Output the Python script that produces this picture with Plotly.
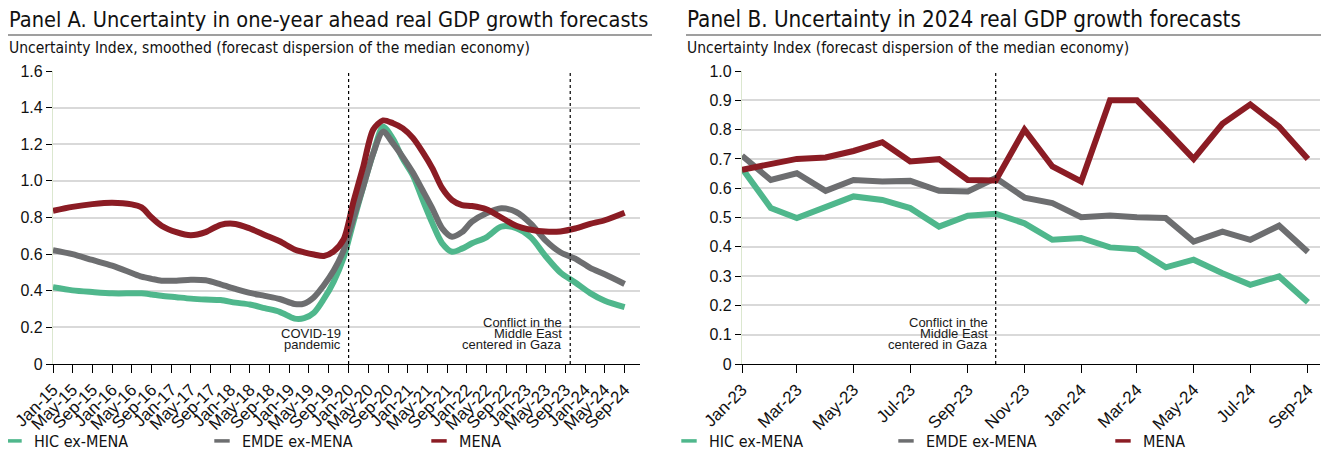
import pandas as pd
import plotly.graph_objects as go

# ---------------- Data ----------------
series_names = ["HIC ex-MENA", "EMDE ex-MENA", "MENA"]
series_colors = ["#4fb78c", "#6d6e70", "#8b1c24"]

a_months = ["2015-01", "2015-05", "2015-09", "2016-01", "2016-05", "2016-07", "2016-09", "2016-11",
            "2017-02", "2017-05", "2017-08", "2017-11", "2018-02", "2018-05", "2018-08", "2018-11",
            "2019-02", "2019-04", "2019-06", "2019-08", "2019-10", "2019-12", "2020-02", "2020-04",
            "2020-06", "2020-08", "2020-10", "2020-12", "2021-02", "2021-04", "2021-06", "2021-08",
            "2021-10", "2021-12", "2022-02", "2022-05", "2022-08", "2022-11", "2023-02", "2023-05",
            "2023-08", "2023-11", "2024-02", "2024-05", "2024-09"]
a_hic = [0.419, 0.402, 0.393, 0.386, 0.386, 0.386, 0.380, 0.373, 0.365, 0.357, 0.352, 0.349,
         0.335, 0.325, 0.305, 0.285, 0.248, 0.250, 0.280, 0.355, 0.450, 0.580, 0.780, 0.970,
         1.150, 1.296, 1.230, 1.120, 1.030, 0.900, 0.770, 0.659, 0.613, 0.630, 0.659, 0.692,
         0.750, 0.742, 0.690, 0.590, 0.500, 0.445, 0.387, 0.345, 0.310]
a_emde = [0.622, 0.600, 0.568, 0.537, 0.497, 0.477, 0.465, 0.455, 0.455, 0.460, 0.457, 0.435,
          0.410, 0.388, 0.372, 0.355, 0.328, 0.330, 0.365, 0.430, 0.510, 0.620, 0.800, 0.970,
          1.150, 1.269, 1.205, 1.130, 1.045, 0.950, 0.850, 0.741, 0.695, 0.720, 0.777, 0.823,
          0.850, 0.830, 0.765, 0.675, 0.610, 0.575, 0.525, 0.490, 0.437]
a_mena = [0.837, 0.858, 0.873, 0.881, 0.872, 0.855, 0.800, 0.755, 0.720, 0.703, 0.720, 0.760,
          0.765, 0.740, 0.705, 0.670, 0.625, 0.610, 0.598, 0.590, 0.615, 0.680, 0.890, 1.080,
          1.280, 1.330, 1.315, 1.287, 1.235, 1.160, 1.070, 0.960, 0.895, 0.868, 0.863, 0.845,
          0.800, 0.755, 0.733, 0.723, 0.724, 0.740, 0.765, 0.785, 0.826]

# Panel B: monthly index Jan-23 .. Sep-24
b_months = ["2023-01", "2023-02", "2023-03", "2023-04", "2023-05", "2023-06", "2023-07",
            "2023-08", "2023-09", "2023-10", "2023-11", "2023-12", "2024-01", "2024-02",
            "2024-03", "2024-04", "2024-05", "2024-06", "2024-07", "2024-08", "2024-09"]
b_hic = [0.668, 0.532, 0.498, 0.537, 0.572, 0.560, 0.532, 0.469, 0.506, 0.513, 0.480,
         0.424, 0.430, 0.398, 0.392, 0.330, 0.356, 0.310, 0.270, 0.299, 0.211]
b_emde = [0.711, 0.628, 0.651, 0.591, 0.628, 0.623, 0.625, 0.591, 0.589, 0.635, 0.568,
          0.549, 0.501, 0.507, 0.501, 0.498, 0.418, 0.452, 0.424, 0.472, 0.382]
b_mena = [0.663, 0.682, 0.700, 0.705, 0.727, 0.757, 0.691, 0.699, 0.628, 0.626, 0.800,
          0.674, 0.623, 0.900, 0.900, 0.800, 0.700, 0.820, 0.886, 0.810, 0.700]

a_yticks = [0, 0.2, 0.4, 0.6, 0.8, 1.0, 1.2, 1.4, 1.6]
a_yticktext = ["0", "0.2", "0.4", "0.6", "0.8", "1.0", "1.2", "1.4", "1.6"]
b_yticks = [0, 0.1, 0.2, 0.3, 0.4, 0.5, 0.6, 0.7, 0.8, 0.9, 1.0]
b_yticktext = ["0", "0.1", "0.2", "0.3", "0.4", "0.5", "0.6", "0.7", "0.8", "0.9", "1.0"]

events_a = [("2020-01", ["COVID-19", "pandemic"]),
            ("2023-10", ["Conflict in the", "Middle East", "centered in Gaza"])]
events_b = [("2023-10", ["Conflict in the", "Middle East", "centered in Gaza"])]

title_a = "Panel A. Uncertainty in one-year ahead real GDP growth forecasts"
title_b = "Panel B. Uncertainty in 2024 real GDP growth forecasts"
sub_a = "Uncertainty Index, smoothed (forecast dispersion of the median economy)"
sub_b = "Uncertainty Index (forecast dispersion of the median economy)"

# ---------------- Figure ----------------
W, H = 1329, 456
OFF = 8  # page body margin: the figure sits 8px right/down in the window


def px(xp):  # window pixel x -> paper fraction
    return (xp - OFF) / W


def py(yp):  # window pixel y (from top) -> paper fraction
    return 1 - (yp - OFF) / H


COND = "DejaVu Sans Condensed, Liberation Sans Narrow, sans-serif"
ARIAL = "Liberation Sans, Arial, sans-serif"

fig = go.Figure()
ad = pd.to_datetime(a_months)
bd = pd.to_datetime(b_months)

for name, col, ya in zip(series_names, series_colors, [a_hic, a_emde, a_mena]):
    fig.add_trace(go.Scatter(x=ad, y=ya, mode="lines",
                             line=dict(color=col, width=6, shape="spline", smoothing=0.8),
                             name=name, showlegend=False, xaxis="x", yaxis="y"))
for name, col, yb in zip(series_names, series_colors, [b_hic, b_emde, b_mena]):
    fig.add_trace(go.Scatter(x=bd, y=yb, mode="lines", line=dict(color=col, width=6),
                             name=name, showlegend=False, xaxis="x2", yaxis="y2"))

# legend entries: one small legend per entry so each can be placed like the reference
legend_text_x = [[34, 242, 459], [709, 926, 1143]]
legend_layouts = {}
k = 1
for p, (xa, ya_) in enumerate([("x", "y"), ("x2", "y2")]):
    for i, (name, col) in enumerate(zip(series_names, series_colors)):
        lg = "legend" if k == 1 else f"legend{k}"
        fig.add_trace(go.Scatter(x=[None], y=[None], mode="markers", name=name, legend=lg,
                                 marker=dict(symbol="line-ew", size=11, line=dict(color=col, width=3.5)),
                                 xaxis=xa, yaxis=ya_))
        legend_layouts[lg] = dict(x=px(legend_text_x[p][i] - 40), y=py(441), yanchor="middle",
                                  xanchor="left", font=dict(family=COND, size=16, color="#111"),
                                  bgcolor="rgba(0,0,0,0)", itemwidth=30)
        k += 1

shapes = []
annotations = []
for xr, yr, evs in [("x", "y", events_a), ("x2", "y2", events_b)]:
    for d, lines in evs:
        dt = pd.Timestamp(d)
        shapes.append(dict(type="line", xref=xr, yref=yr + " domain", x0=dt, x1=dt, y0=0, y1=1,
                           line=dict(color="black", width=1.2, dash="dot")))
        n = len(lines)
        for i, t in enumerate(lines):
            annotations.append(dict(x=dt, xref=xr, y=0, yref=yr, text=t, showarrow=False,
                                    xanchor="right", yanchor="middle", xshift=-6,
                                    yshift=20 + 11 * (n - 1 - i),
                                    font=dict(family=ARIAL, size=13, color="#1a1a1a")))

# titles, subtitles, rules
for x0, x1, t, s, ts in [(7, 652, title_a, sub_a, 21.6), (685, 1340, title_b, sub_b, 22.3)]:
    annotations.append(dict(x=px(x0), y=py(19), xref="paper", yref="paper", text=t, showarrow=False,
                            xanchor="left", yanchor="middle", font=dict(family=COND, size=ts, color="#111")))
    annotations.append(dict(x=px(x0), y=py(48), xref="paper", yref="paper", text=s, showarrow=False,
                            xanchor="left", yanchor="middle", font=dict(family=COND, size=15.5, color="#111")))
    shapes.append(dict(type="line", xref="paper", yref="paper", x0=px(x0 + 1), x1=px(x1), y0=py(35),
                       y1=py(35), line=dict(color="#7f7f7f", width=1.5)))

ydom = [py(364), py(71)]
xdomA = [px(53), px(640)]
xdomB = [px(742), px(1320)]
rngA = ["2015-01-01", "2024-12-05"]
rngB = ["2023-01-01", "2024-09-14"]
tickfont_x = dict(family=ARIAL, size=17, color="#111")
common_x = dict(showgrid=False, showline=True, linecolor="black", linewidth=1.2, ticks="outside",
                ticklen=8, tickcolor="black", tickwidth=1.2, tickangle=-45, automargin=False,
                tickfont=tickfont_x, tickformat="%b-%y")
common_y = dict(showgrid=True, gridcolor="#d9d9d9", gridwidth=1.5, showline=True, linecolor="#dbe7cf",
                linewidth=1.2, ticks="outside", ticklen=6, tickcolor="black", tickwidth=1.2,
                automargin=False,
                tickfont=dict(family=ARIAL, size=16, color="#111"), zeroline=False, tickmode="array")
# inner halves of the crossing tick marks (overlay axes without labels)
inner_x = dict(showgrid=False, showline=False, ticks="inside", ticklen=7, tickcolor="black",
               tickwidth=1.2, showticklabels=False, automargin=False)
inner_y = dict(showgrid=False, showline=False, ticks="inside", ticklen=9, tickcolor="black",
               tickwidth=1.2, showticklabels=False, zeroline=False, tickmode="array", automargin=False)

fig.update_layout(
    width=W, height=H, margin=dict(l=0, r=0, t=0, b=0, autoexpand=False),
    paper_bgcolor="white", plot_bgcolor="white",
    xaxis=dict(domain=xdomA, anchor="y", range=rngA, tick0="2015-01-01", dtick="M4", **common_x),
    yaxis=dict(domain=ydom, anchor="x", range=[0, 1.6], tickvals=a_yticks, ticktext=a_yticktext, **common_y),
    xaxis2=dict(domain=xdomB, anchor="y2", range=rngB, tick0="2023-01-01", dtick="M2", **common_x),
    yaxis2=dict(domain=ydom, anchor="x2", range=[0, 1.0], tickvals=b_yticks, ticktext=b_yticktext, **common_y),
    xaxis3=dict(domain=xdomA, anchor="y", overlaying="x", type="date", range=rngA,
                tick0="2015-01-01", dtick="M4", **inner_x),
    xaxis4=dict(domain=xdomB, anchor="y2", overlaying="x2", type="date", range=rngB,
                tick0="2023-01-01", dtick="M2", **inner_x),
    yaxis3=dict(domain=ydom, anchor="x", overlaying="y", range=[0, 1.6], tickvals=a_yticks, **inner_y),
    yaxis4=dict(domain=ydom, anchor="x2", overlaying="y2", range=[0, 1.0], tickvals=b_yticks, **inner_y),
    shapes=shapes, annotations=annotations,
    **legend_layouts,
)

fig.write_html("out.html")
